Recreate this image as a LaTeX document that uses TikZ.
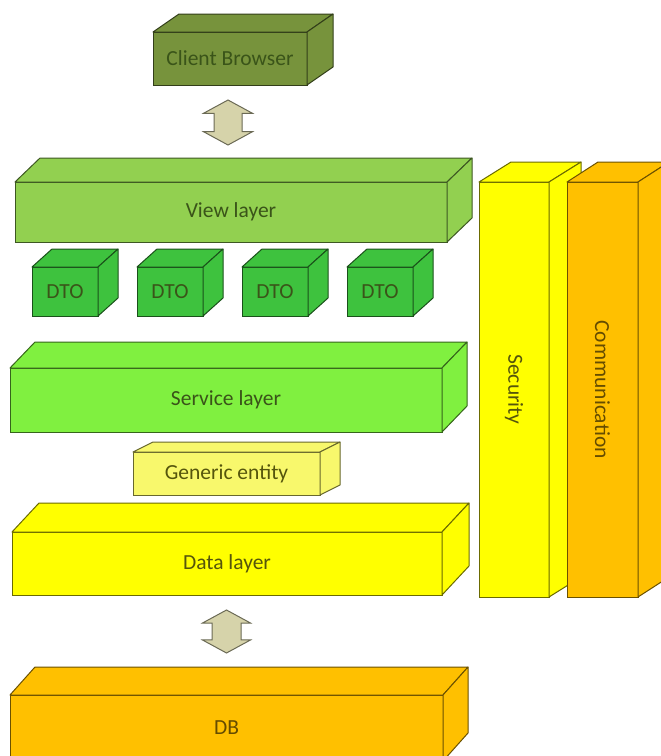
\documentclass[tikz,border=0pt]{standalone}
\usepackage{fontspec}
\setmainfont{Carlito}
\usetikzlibrary{shapes.arrows}
\definecolor{browserfill}{HTML}{77933C}
\definecolor{viewfill}{HTML}{92D050}
\definecolor{dtofill}{HTML}{3EC23E}
\definecolor{servicefill}{HTML}{80F040}
\definecolor{genericfill}{HTML}{F8F86C}
\definecolor{datafill}{HTML}{FFFF00}
\definecolor{dbfill}{HTML}{FFC000}
\definecolor{arrowfill}{HTML}{D6D3AA}
\definecolor{greentext}{HTML}{3A5419}
\definecolor{olivetext}{HTML}{55550C}
\definecolor{browntext}{HTML}{654C00}

\begin{document}
\begin{tikzpicture}
	[x=1pt,y=-1pt,
	 layer/.style={rectangle,draw=#1!42!black,fill=#1,line width=1pt,inner sep=0pt,outer sep=0pt,
	   font=\fontsize{21.5}{25}\selectfont},
	 face/.style={draw=#1!42!black,fill=#1,line width=1pt,line join=round},
	 updown/.style={double arrow,rotate=90,draw=arrowfill!50!black,fill=arrowfill,line width=1pt,
	   inner xsep=0pt,inner ysep=13.5pt,minimum height=45pt,
	   double arrow head extend=10.5pt,double arrow tip angle=123}]
    \useasboundingbox (0,0) rectangle (661,756);
    \clip (0,0) rectangle (661,756);

    \node[layer=browserfill,text=greentext,minimum width=154pt,minimum height=53pt] (browser) at (230,58.5) {Client Browser};
    \node[updown] (arrowtop) at (228,122.5) {};

    \node[layer=viewfill,text=greentext,minimum width=432pt,minimum height=60pt] (view) at (231,212) {View layer};

    \node[layer=dtofill,text=greentext,minimum width=66pt,minimum height=49pt] (dtoA) at (65,291.5) {DTO};
    \node[layer=dtofill,text=greentext,minimum width=66pt,minimum height=49pt] (dtoB) at (170,291.5) {DTO};
    \node[layer=dtofill,text=greentext,minimum width=66pt,minimum height=49pt] (dtoC) at (275,291.5) {DTO};
    \node[layer=dtofill,text=greentext,minimum width=66pt,minimum height=49pt] (dtoD) at (380,291.5) {DTO};

    \node[layer=servicefill,text=greentext,minimum width=432pt,minimum height=64pt] (service) at (226,400) {Service layer};
    \node[layer=genericfill,text=olivetext,minimum width=187pt,minimum height=43pt] (generic) at (226.5,473.5) {Generic entity};
    \node[layer=datafill,text=olivetext,minimum width=430pt,minimum height=63pt] (data) at (227,563.5) {Data layer};

    \node[updown,minimum height=43pt,inner ysep=14pt,double arrow head extend=9.5pt] (arrowbottom) at (226.5,631.5) {};

    \node[layer=dbfill,text=browntext,minimum width=433pt,minimum height=66pt] (db) at (226.5,728) {DB};

    \node[layer=datafill,text=olivetext,minimum width=70pt,minimum height=415pt] (security) at (514,389.5) {\rotatebox{-90}{Security}};

    % top and right faces of the boxes
    \foreach \b/\dx/\dy/\c in {browser/26/-18/browserfill, view/25/-24/viewfill,
        dtoA/20/-18/dtofill, dtoB/20/-18/dtofill, dtoC/20/-18/dtofill, dtoD/20/-18/dtofill,
        service/25/-26/servicefill, generic/20/-10/genericfill, data/27/-29/datafill,
        db/25/-28/dbfill, security/32/-20/datafill}
    {
      \filldraw[face=\c] (\b.north west) -- ++(\dx,\dy) -- ([shift={(\dx,\dy)}]\b.north east) -- (\b.north east) -- cycle;
      \filldraw[face=\c] (\b.north east) -- ++(\dx,\dy) -- ([shift={(\dx,\dy)}]\b.south east) -- (\b.south east) -- cycle;
    }

    \node[layer=dbfill,text=browntext,minimum width=71pt,minimum height=415pt] (communication) at (602.5,389.5) {\rotatebox{-90}{Communication}};
    \filldraw[face=dbfill] (communication.north west) -- ++(31,-20) -- ([shift={(31,-20)}]communication.north east) -- (communication.north east) -- cycle;
    \filldraw[face=dbfill] (communication.north east) -- ++(31,-20) -- ([shift={(31,-20)}]communication.south east) -- (communication.south east) -- cycle;

\end{tikzpicture}
\end{document}
